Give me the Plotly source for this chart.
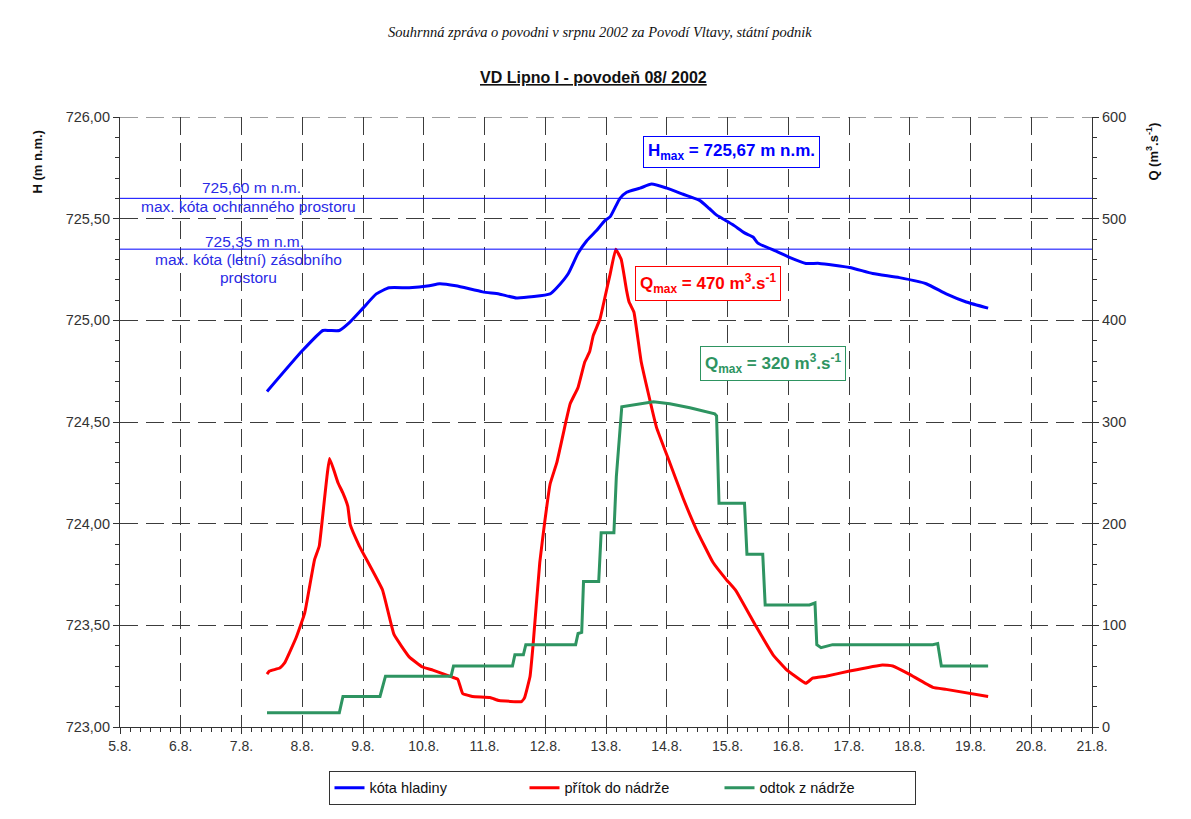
import plotly.graph_objects as go

# ---- data (day of August 2002) ----
h_day = [7.42, 8.0, 8.34, 8.45, 8.61, 8.78, 9.0, 9.22, 9.43, 9.76, 10.09, 10.26, 10.53, 10.97,
         11.24, 11.53, 12.08, 12.19, 12.38, 12.54, 12.68, 12.84, 12.98, 13.07, 13.23, 13.34,
         13.56, 13.75, 14.0, 14.27, 14.54, 14.70, 14.81, 14.92, 15.09, 15.28, 15.42, 15.5,
         15.8, 16.02, 16.29, 16.51, 17.01, 17.39, 17.83, 18.27, 18.6, 18.93, 19.29]
h_val = [724.65, 724.85, 724.95, 724.95, 724.95, 724.99, 725.06, 725.13, 725.16, 725.16,
         725.17, 725.18, 725.17, 725.14, 725.13, 725.11, 725.13, 725.16, 725.23, 725.33,
         725.39, 725.44, 725.49, 725.51, 725.60, 725.63, 725.65, 725.67, 725.65, 725.62,
         725.59, 725.55, 725.52, 725.50, 725.47, 725.43, 725.41, 725.38, 725.34, 725.31,
         725.28, 725.28, 725.26, 725.23, 725.21, 725.18, 725.13, 725.09, 725.06]

qin_day = [7.42, 7.46, 7.63, 7.71, 7.9, 8.04, 8.2, 8.28, 8.45, 8.59, 8.67, 8.75, 8.79, 8.94,
           9.32, 9.51, 9.76, 9.98, 10.15, 10.47, 10.56, 10.64, 10.8, 11.09, 11.24, 11.61,
           11.66, 11.75, 11.8, 11.91, 11.99, 12.08, 12.19, 12.35, 12.41, 12.54, 12.65, 12.73,
           12.79, 12.9, 12.98, 13.07, 13.16, 13.25, 13.34, 13.38, 13.46, 13.58, 13.83, 14.05,
           14.27, 14.49, 14.76, 14.98, 15.14, 15.47, 15.75, 15.96, 16.29, 16.4, 16.62, 17.01,
           17.55, 17.72, 17.99, 18.38, 18.6, 19.29]
qin_val = [52, 55, 58, 63, 88, 112, 164, 178, 264, 240, 230, 217, 199, 178,
           135, 91, 69, 59, 56, 49, 47, 33, 30, 29, 26, 25,
           29, 50, 81, 162, 201, 239, 260, 303, 318, 334, 359, 369,
           385, 401, 422, 446, 470, 460, 429, 418, 408, 359, 295, 260,
           225, 194, 162, 145, 134, 99, 71, 57, 43, 48, 50, 55,
           61, 60, 52, 39, 37, 30]

qout_day = [7.42, 8.61, 8.67, 9.28, 9.37, 10.45, 10.49, 11.46, 11.5, 11.64, 11.68, 12.5, 12.54,
            12.6, 12.63, 12.88, 12.92, 13.13, 13.17, 13.26, 13.78, 14.05, 14.38, 14.6, 14.79,
            14.82, 14.86, 15.28, 15.32, 15.58, 15.62, 16.35, 16.44, 16.47, 16.54, 16.73, 18.38,
            18.46, 18.52, 19.29]
qout_val = [14, 14, 30, 30, 50, 50, 60, 60, 71, 71, 81, 81, 92,
            93, 143, 143, 191, 191, 246, 315, 320, 318, 314, 311, 308,
            306, 220, 220, 170, 170, 120, 120, 122, 81, 78, 81, 81,
            82, 60, 60]

x_ticks = list(range(5, 22))
x_labels = [f"{d}.8." for d in x_ticks]

h_ochr = 725.60
h_zas = 725.35

BLUE = "#0000ff"
RED = "#ff0000"
GREEN = "#2e9461"
TXTBLUE = "#2a2ae6"
FONT = "Liberation Sans, Arial, sans-serif"

# page offset of the body (8px default margin)
OFF = 8
PL, PR, PT, PB = 120, 1092, 117.4, 727.3  # target plot area in page px
W, H = 1175, 803

fig = go.Figure()
fig.add_trace(go.Scatter(x=h_day, y=h_val, mode="lines", name="kóta hladiny",
                         line=dict(color=BLUE, width=3, shape="spline", smoothing=0.5),
                         yaxis="y"))
fig.add_trace(go.Scatter(x=qin_day, y=qin_val, mode="lines", name="přítok do nádrže",
                         line=dict(color=RED, width=3, shape="spline", smoothing=0.3),
                         yaxis="y2"))
fig.add_trace(go.Scatter(x=qout_day, y=qout_val, mode="lines", name="odtok z nádrže",
                         line=dict(color=GREEN, width=3), yaxis="y2"))

# reference levels
for lvl in (h_ochr, h_zas):
    fig.add_shape(type="line", xref="paper", x0=0, x1=1, yref="y", y0=lvl, y1=lvl,
                  line=dict(color=BLUE, width=1))

gridcol = "#3c3c3c"
pw = PR - PL
ph = PB - PT


def px(xp):
    return (xp - PL) / pw


def py(yp):
    return (PB - yp) / ph


fig.update_layout(
    width=W, height=H,
    margin=dict(l=PL - OFF, r=W - (PR - OFF), t=PT - OFF, b=H - (PB - OFF), autoexpand=False),
    paper_bgcolor="white", plot_bgcolor="white",
    font=dict(family=FONT, size=12, color="#222"),
    separators=", ",
    showlegend=True,
    legend=dict(orientation="h", x=px(622), xanchor="center", y=py(771), yanchor="top",
                bordercolor="#333", borderwidth=1, entrywidth=150, entrywidthmode="pixels",
                font=dict(size=14.5, color="#111", family=FONT), itemwidth=30),
    xaxis=dict(range=[5, 21], tickvals=x_ticks, ticktext=x_labels, showgrid=True,
               gridcolor=gridcol, griddash="18px,8px", gridwidth=1.2, automargin=False,
               showline=True, linecolor="#333", linewidth=1.2, ticks="outside", ticklen=6,
               tickcolor="#333", minor=dict(dtick=1/6, tick0=5, ticks="outside", ticklen=4,
                                            tickcolor="#333", showgrid=False),
               tickfont=dict(size=14, color="#333"), zeroline=False),
    yaxis=dict(range=[723, 726], dtick=0.5, tick0=723, tickformat=".2f", showgrid=True,
               gridcolor=gridcol, griddash="18px,8px", gridwidth=1.2, automargin=False,
               showline=True, linecolor="#333", linewidth=1.2, ticks="outside", ticklen=6,
               tickcolor="#333", minor=dict(dtick=0.1, ticks="outside", ticklen=4,
                                            tickcolor="#333", showgrid=False),
               tickfont=dict(size=14.5, color="#333"), zeroline=False),
    yaxis2=dict(range=[0, 600], dtick=100, overlaying="y", side="right", showgrid=False,
                showline=True, linecolor="#333", linewidth=1.2, ticks="outside", ticklen=6,
                automargin=False,
                tickcolor="#333", minor=dict(dtick=20, ticks="outside", ticklen=4,
                                             tickcolor="#333"),
                tickfont=dict(size=14.5, color="#333"), zeroline=False),
)

# top border as dashed gridline
fig.add_shape(type="line", xref="paper", x0=0, x1=1, yref="y", y0=726, y1=726,
              line=dict(color=gridcol, width=1.2, dash="18px,8px"))

ann = []
# header and title
ann.append(dict(text="<i>Souhrnná zpráva o povodni v srpnu 2002 za Povodí Vltavy, státní podnik</i>",
                xref="paper", yref="paper", x=px(600), y=py(32),
                showarrow=False, font=dict(family="Liberation Serif, Times New Roman, serif",
                                           size=14.5, color="#111")))
ann.append(dict(text="<b><span style='text-decoration:underline'>VD Lipno I - povodeň 08/ 2002</span></b>",
                xref="paper", yref="paper", x=px(593), y=py(78),
                showarrow=False, font=dict(size=16, color="#111")))
# axis titles
ann.append(dict(text="<b>H (m n.m.)</b>", xref="paper", yref="paper",
                x=px(38), y=py(162), textangle=-90, showarrow=False,
                font=dict(size=13, color="#111")))
ann.append(dict(text="<b>Q (m<sup>3</sup>.s<sup>-1</sup>)</b>", xref="paper", yref="paper",
                x=px(1152), y=py(152), textangle=-90, showarrow=False,
                font=dict(size=13, color="#111")))
# level labels
LF = 15.5
ann.append(dict(text="725,60 m n.m.", x=7.16, y=725.655, showarrow=False,
                font=dict(size=LF, color=TXTBLUE)))
ann.append(dict(text="max. kóta ochranného prostoru", x=7.11, y=725.56, showarrow=False,
                font=dict(size=LF, color=TXTBLUE)))
ann.append(dict(text="725,35 m n.m.", x=7.21, y=725.39, showarrow=False,
                font=dict(size=LF, color=TXTBLUE)))
ann.append(dict(text="max. kóta (letní) zásobního", x=7.11, y=725.30, showarrow=False,
                font=dict(size=LF, color=TXTBLUE)))
ann.append(dict(text="prostoru", x=7.11, y=725.21, showarrow=False,
                font=dict(size=LF, color=TXTBLUE)))
# max boxes
ann.append(dict(text="<b>H<sub>max</sub> = 725,67 m n.m.</b>", x=15.07, y=725.83,
                showarrow=False, font=dict(size=17, color=BLUE), bgcolor="white",
                bordercolor=BLUE, borderwidth=1, borderpad=4))
ann.append(dict(text="<b>Q<sub>max</sub> = 470 m<sup>3</sup>.s<sup>-1</sup></b>", x=14.68, y=725.18,
                showarrow=False, font=dict(size=17, color=RED), bgcolor="white",
                bordercolor=RED, borderwidth=1, borderpad=4))
ann.append(dict(text="<b>Q<sub>max</sub> = 320 m<sup>3</sup>.s<sup>-1</sup></b>", x=15.75, y=724.79,
                showarrow=False, font=dict(size=17, color=GREEN), bgcolor="white",
                bordercolor=GREEN, borderwidth=1, borderpad=4))
for a in ann:
    a.setdefault("xref", "x")
    a.setdefault("yref", "y")
    a["xanchor"] = "center"
    a["yanchor"] = "middle"
fig.update_layout(annotations=ann)

fig.write_html("out.html")
